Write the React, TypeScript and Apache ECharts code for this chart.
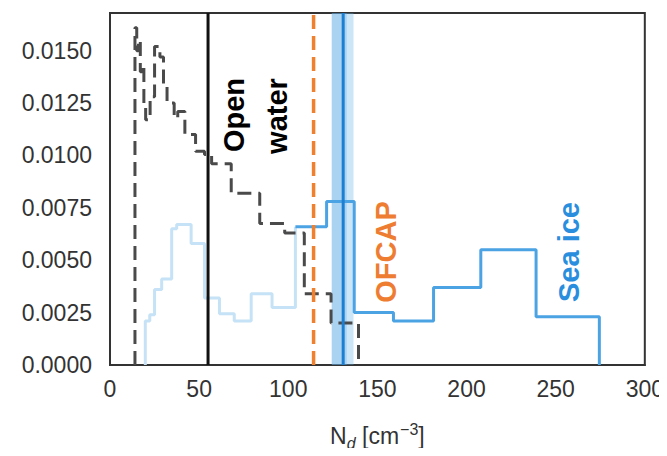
import React, { useEffect, useRef } from "react";
import * as echarts from "echarts";

// Open water distribution (gray dashed step histogram)
const owEdges = [14, 15, 16, 17, 18, 19, 20, 22.5, 25, 28, 30, 32, 36, 38, 42, 48, 53, 57, 68, 84, 98, 109, 124, 139.4];
const owValues = [0.0161, 0.015, 0.0155, 0.014, 0.0143, 0.0125, 0.0117, 0.0128, 0.0152, 0.0147, 0.0133, 0.0125, 0.0118, 0.0121, 0.011, 0.0102, 0.01005, 0.0096, 0.0082, 0.00675, 0.0063, 0.0034, 0.002];

// Light blue distribution
const lbEdges = [19.8, 22.3, 25, 29, 34.6, 37.4, 45.5, 53, 61.4, 69.7, 79.2, 90.9, 104];
const lbValues = [0.0021, 0.0024, 0.0036, 0.0041, 0.0065, 0.0067, 0.0058, 0.0032, 0.00245, 0.0021, 0.0034, 0.00275];

// Sea ice distribution (blue step histogram)
const siEdges = [104, 121.5, 137, 159, 181.5, 208, 239, 274.5];
const siValues = [0.0066, 0.0078, 0.0025, 0.0021, 0.0037, 0.0055, 0.0023];

// Reference lines
const openWaterLine = 55;
const ofcapLine = 114.2;
const seaIceLine = 130.8;
const seaIceBandOuter = [124.4, 136.6];
const seaIceBandInner = [124.4, 132.8];

const xTicks = [0, 50, 100, 150, 200, 250, 300];
const yMax = 0.0168;

function stepPath(edges: number[], values: number[], fromBase: boolean, toBase: boolean, endValue?: number) {
  const pts: number[][] = [];
  if (fromBase) pts.push([edges[0], 0]);
  for (let i = 0; i < values.length; i++) {
    pts.push([edges[i], values[i]]);
    pts.push([edges[i + 1], values[i]]);
  }
  if (toBase) pts.push([edges[edges.length - 1], 0]);
  else if (endValue !== undefined) pts.push([edges[edges.length - 1], endValue]);
  return pts;
}

const FONT = "'Liberation Sans', Arial, sans-serif";

export default function App() {
  const ref = useRef<HTMLDivElement>(null);
  useEffect(() => {
    if (!ref.current) return;
    const chart = echarts.init(ref.current, undefined, { renderer: "svg" });
    const vline = (x: number) => [[x, 0], [x, yMax]];
    chart.setOption({
      animation: false,
      backgroundColor: "#ffffff",
      grid: { left: 110, right: 19, top: 13, bottom: 86, show: true, borderColor: "#333", borderWidth: 2, backgroundColor: "transparent" },
      xAxis: {
        type: "value",
        min: xTicks[0],
        max: xTicks[xTicks.length - 1],
        interval: 50,
        axisLine: { show: true, lineStyle: { color: "#333", width: 2 } },
        axisTick: { show: false },
        splitLine: { show: false },
        axisLabel: { color: "#333", fontSize: 23, fontFamily: FONT, margin: 12 },
        name: "{n|N}{d|d}{n| [cm}{s|−3}{n|]}",
        nameLocation: "middle",
        nameGap: 56,
        nameTextStyle: {
          rich: {
            n: { fontSize: 23, fontFamily: FONT, color: "#333", lineHeight: 30 },
            d: { fontSize: 16, fontFamily: FONT, fontStyle: "italic", color: "#333", verticalAlign: "bottom", lineHeight: 30, padding: [8, 0, 0, 0] },
            s: { fontSize: 16, fontFamily: FONT, color: "#333", verticalAlign: "top", lineHeight: 30, padding: [0, 0, 10, 1] },
          },
        },
      },
      yAxis: {
        type: "value",
        min: 0,
        max: yMax,
        interval: 0.0025,
        axisLine: { show: true, lineStyle: { color: "#333", width: 2 } },
        axisTick: { show: false },
        splitLine: { show: false },
        axisLabel: {
          color: "#333",
          fontSize: 23,
          fontFamily: FONT,
          margin: 18,
          showMaxLabel: false,
          formatter: (v: number) => {
            const r = v / 0.0025;
            return Math.abs(r - Math.round(r)) < 1e-6 ? v.toFixed(4) : "";
          },
        },
      },
      series: [
        {
          type: "line",
          data: stepPath(lbEdges, lbValues, true, false, siValues[0]),
          showSymbol: false,
          lineStyle: { color: "#c6e2f6", width: 3 },
          z: 2,
        },
        {
          type: "line",
          data: stepPath(siEdges, siValues, false, true),
          showSymbol: false,
          lineStyle: { color: "#4ba3e3", width: 3 },
          z: 3,
        },
        {
          type: "line",
          data: stepPath(owEdges, owValues, true, true),
          showSymbol: false,
          lineStyle: { color: "#4a4a4a", width: 3, type: [14, 7] },
          z: 4,
          markArea: {
            silent: true,
            itemStyle: { color: "rgba(100,175,230,0.33)" },
            data: [
              [{ xAxis: seaIceBandOuter[0] }, { xAxis: seaIceBandOuter[1] }],
              [{ xAxis: seaIceBandInner[0] }, { xAxis: seaIceBandInner[1] }],
            ],
          },
        },
        {
          type: "line",
          data: vline(openWaterLine),
          showSymbol: false,
          lineStyle: { color: "#111", width: 3 },
          z: 5,
        },
        {
          type: "line",
          data: vline(ofcapLine),
          showSymbol: false,
          lineStyle: { color: "#f0802e", width: 3.5, type: [14, 7] },
          z: 5,
        },
        {
          type: "line",
          data: vline(seaIceLine),
          showSymbol: false,
          lineStyle: { color: "#1c7fd3", width: 3 },
          z: 5,
        },
      ],
      graphic: [
        { type: "text", x: 234, y: 115, rotation: Math.PI / 2, z: 10, style: { text: "Open", font: `bold 29px ${FONT}`, fill: "#000", align: "center", verticalAlign: "middle" } },
        { type: "text", x: 277, y: 116, rotation: Math.PI / 2, z: 10, style: { text: "water", font: `bold 29px ${FONT}`, fill: "#000", align: "center", verticalAlign: "middle" } },
        { type: "text", x: 386, y: 252, rotation: Math.PI / 2, z: 10, style: { text: "OFCAP", font: `bold 29px ${FONT}`, fill: "#ee7d31", align: "center", verticalAlign: "middle" } },
        { type: "text", x: 569, y: 252, rotation: Math.PI / 2, z: 10, style: { text: "Sea ice", font: `bold 29px ${FONT}`, fill: "#2a8ede", align: "center", verticalAlign: "middle" } },
      ],
    });
    return () => chart.dispose();
  }, []);
  return <div ref={ref} style={{ width: 667, height: 456, margin: -8 }} />;
}
